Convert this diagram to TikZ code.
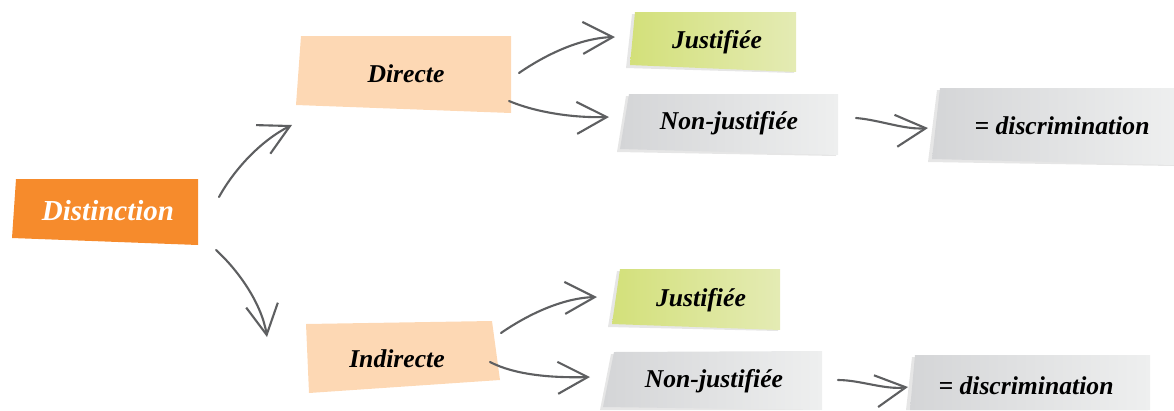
\documentclass[tikz,border=0pt]{standalone}
\usepackage{fontspec}
\setmainfont{Liberation Serif}
\usepackage{xcolor}
\definecolor{distorange}{HTML}{F68B2C}
\definecolor{peach}{HTML}{FDD8B4}
\definecolor{okgreen}{HTML}{D3E07A}
\definecolor{okgreenlt}{HTML}{E4EBB4}
\definecolor{kogray}{HTML}{D4D5D7}
\definecolor{kograylt}{HTML}{EEEFEF}
\definecolor{shadowgray}{HTML}{E6E6E6}
\definecolor{linkgray}{HTML}{5E5F61}
\usepackage{tikz}
\usetikzlibrary{arrows.meta}
\newcommand{\slab}[5]{\path[#1] #2 -- #3 -- #4 -- #5 -- cycle;}

\begin{document}
\begin{tikzpicture}[
  x=0.02cm, y=-0.02cm,
  lbl/.style={font=\bfseries\itshape\fontsize{14.6pt}{17pt}\selectfont, inner sep=0pt},
  big/.style={font=\bfseries\itshape\fontsize{16.5pt}{19pt}\selectfont, inner sep=0pt, text=white},
  okfill/.style={left color=okgreen, right color=okgreenlt},
  kofill/.style={left color=kogray, right color=kograylt},
  shad/.style={fill=shadowgray},
  link/.style={draw=linkgray, line width=1.2pt, line cap=round,
               -{Straight Barb[length=6mm, width=6.4mm, line width=1.2pt]}}
]
  \useasboundingbox (0,0) rectangle (1174,410);

  % boxes
  \slab{fill=distorange}{(16,179)}{(198,179)}{(198,245)}{(12,238)}
  \slab{fill=peach}{(301,36)}{(511,36)}{(511,113)}{(296,105)}
  \slab{fill=peach}{(306,324)}{(492,321)}{(500,380)}{(309,393)}

  \slab{shad}{(632,14)}{(794,14)}{(794,73)}{(626,68)}
  \slab{okfill}{(635,12)}{(796,12)}{(796,72)}{(630,65)}
  \slab{shad}{(626,96)}{(836,96)}{(836,156)}{(617,152)}
  \slab{kofill}{(629,94)}{(838,94)}{(838,155)}{(620,149)}
  \slab{shad}{(937,90)}{(1174,90)}{(1174,166)}{(928,162)}
  \slab{kofill}{(940,88)}{(1174,88)}{(1174,165)}{(932,159)}

  \slab{shad}{(617,271)}{(778,271)}{(778,331)}{(608,327)}
  \slab{okfill}{(620,269)}{(780,269)}{(780,330)}{(612,324)}
  \slab{shad}{(611,354)}{(820,353)}{(820,410)}{(600,410)}
  \slab{kofill}{(614,352)}{(822,351)}{(822,410)}{(603,407)}
  \slab{shad}{(912,357)}{(1148,357)}{(1148,410)}{(906,410)}
  \slab{kofill}{(915,355)}{(1150,355)}{(1150,410)}{(910,410)}

  % labels
  \node[big] (dist) at (108,211) {Distinction};
  \node[lbl] (direct) at (406,74) {Directe};
  \node[lbl] (indirect) at (397,359) {Indirecte};
  \node[lbl] (j1) at (717,42) {Justifiée};
  \node[lbl] (nj1) at (729,123) {Non-justifiée};
  \node[lbl] (d1) at (1062,126) {= discrimination};
  \node[lbl] (j2) at (701,300) {Justifiée};
  \node[lbl] (nj2) at (714,381) {Non-justifiée};
  \node[lbl] (d2) at (1026,386) {= discrimination};

  % connector ends
  \coordinate (dist-up) at (219,197);
  \coordinate (dist-dn) at (216,250);
  \coordinate (direct-in) at (292,125);
  \coordinate (indirect-in) at (267,337);
  \coordinate (direct-up) at (519,73);
  \coordinate (direct-dn) at (509,101);
  \coordinate (j1-in) at (615,37);
  \coordinate (nj1-in) at (609,117);
  \coordinate (nj1-out) at (856,118);
  \coordinate (d1-in) at (928,128);
  \coordinate (indirect-up) at (501,333);
  \coordinate (indirect-dn) at (490,362);
  \coordinate (j2-in) at (597,297);
  \coordinate (nj2-in) at (590,377);
  \coordinate (nj2-out) at (838,380);
  \coordinate (d2-in) at (908,387);

  % arrows
  \draw[link] (dist-up) .. controls (235,168) and (262,140) .. (direct-in);
  \draw[link] (dist-dn) .. controls (240,272) and (262,305) .. (indirect-in);
  \draw[link] (direct-up) .. controls (545,55) and (580,38) .. (j1-in);
  \draw[link] (direct-dn) .. controls (535,112) and (572,118) .. (nj1-in);
  \draw[link] (nj1-out) .. controls (880,120) and (905,130) .. (d1-in);
  \draw[link] (indirect-up) .. controls (527,315) and (562,298) .. (j2-in);
  \draw[link] (indirect-dn) .. controls (515,375) and (552,378) .. (nj2-in);
  \draw[link] (nj2-out) .. controls (860,380) and (885,390) .. (d2-in);
\end{tikzpicture}
\end{document}
